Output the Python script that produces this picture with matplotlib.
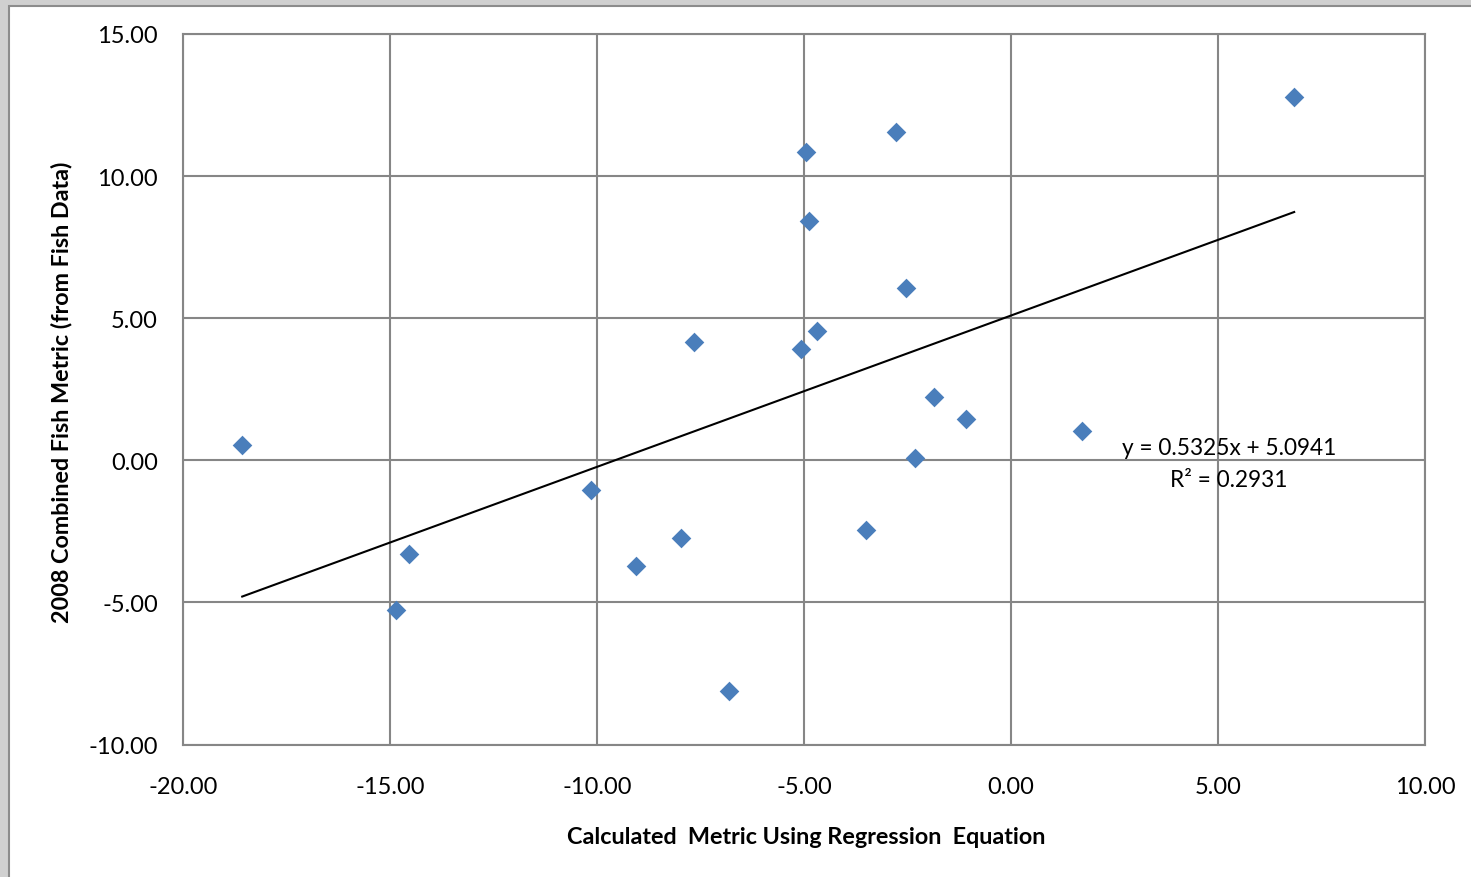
import numpy as np
import matplotlib
matplotlib.use("Agg")
import matplotlib.pyplot as plt
from matplotlib.patches import Rectangle

plt.rcParams['font.family'] = ['Lato', 'DejaVu Sans']

# points
calc_metric = [-18.57, -14.86, -14.54, -10.14, -9.06, -7.97, -7.66, -6.81, -5.07, -4.95,
               -4.88, -4.69, -3.50, -2.78, -2.54, -2.32, -1.86, -1.09, 1.71, 6.84]
fish_metric = [0.53, -5.25, -3.31, -1.06, -3.73, -2.75, 4.15, -8.13, 3.91, 10.85,
               8.42, 4.54, -2.46, 11.55, 6.06, 0.07, 2.22, 1.44, 1.02, 12.78]
slope, intercept, r2 = 0.5325, 5.0941, 0.2931

W, H = 1471, 878
fig = plt.figure(figsize=(W / 100, H / 100), dpi=100)
fig.patch.set_facecolor('#d0d0d0')
# white chart area with its darker frame (runs off the bottom and right)
fig.patches.append(Rectangle((9 / W, -0.05), 1.1, 1.05 - 7 / H, transform=fig.transFigure,
                             facecolor='white', edgecolor='#8c8c8c', linewidth=1.5,
                             zorder=-10))

ax = fig.add_axes([183 / W, 1 - 745.5 / H, (1425 - 183) / W, (745.5 - 35) / H])
ax.set_xlim(-20, 10)
ax.set_ylim(-10, 15)
ax.set_xticks(np.arange(-20, 11, 5))
ax.set_yticks(np.arange(-10, 16, 5))
ax.xaxis.set_major_formatter(matplotlib.ticker.FormatStrFormatter('%.2f'))
ax.yaxis.set_major_formatter(matplotlib.ticker.FormatStrFormatter('%.2f'))
ax.tick_params(length=0, labelsize=17)
ax.tick_params(axis='x', pad=23)
ax.tick_params(axis='y', pad=18)
ax.grid(True, color='#868686', linewidth=1.5)
ax.set_axisbelow(True)
for s in ax.spines.values():
    s.set_color('#868686')
    s.set_linewidth(1.5)

ax.scatter(calc_metric, fish_metric, marker='D', s=100, color='#4a7ebb', zorder=3,
           linewidths=0)

xs = np.array([min(calc_metric), max(calc_metric)])
ax.plot(xs, slope * xs + intercept, color='black', linewidth=1.5, zorder=2)

ax.text(5.27, 0.46, f"y = {slope}x + {intercept}", ha='center', va='center',
        fontsize=16.3, zorder=4)
ax.text(5.27, -0.67, f"R² = {r2}", ha='center', va='center', fontsize=16.3, zorder=4)

fig.text(806 / W, 1 - 838 / H, "Calculated  Metric Using Regression  Equation",
         ha='center', va='center', fontsize=16.8, fontweight='bold')
fig.text(62 / W, 1 - 392 / H, "2008 Combined Fish Metric (from Fish Data)",
         ha='center', va='center', rotation=90, fontsize=16.8, fontweight='bold')

fig.savefig("out.png", dpi=100, facecolor=fig.get_facecolor())
